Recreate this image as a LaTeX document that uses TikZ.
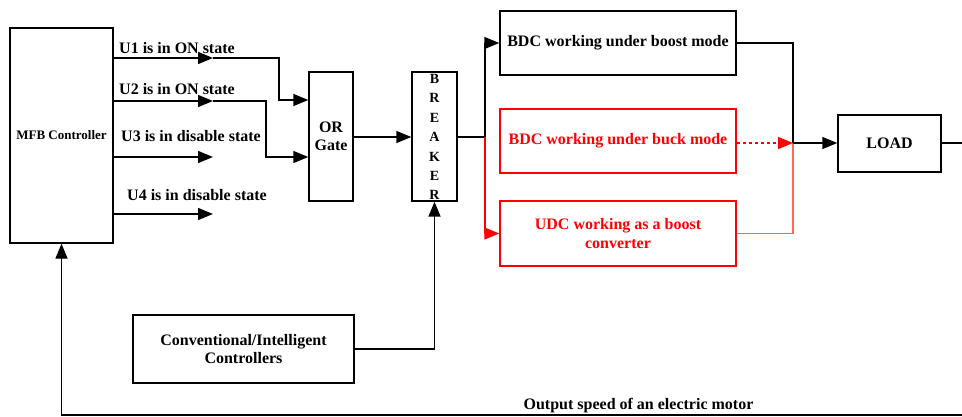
\documentclass[tikz,border=0pt]{standalone}
\usepackage{fontspec}
\setmainfont{Liberation Serif}
\usetikzlibrary{arrows.meta}
\definecolor{pinkred}{RGB}{255,100,100}
\begin{document}
\begin{tikzpicture}[x=1pt,y=-1pt,
  box/.style={draw,line width=1.4pt,shape=rectangle,inner sep=0pt,align=center,
    font=\bfseries\fontsize{16}{18.5}\selectfont},
  redbox/.style={box,draw=red,text=red},
  lbl/.style={inner sep=0pt,font=\bfseries\fontsize{16}{18.5}\selectfont},
  letter/.style={inner sep=0pt,font=\bfseries\fontsize{14}{16}\selectfont},
  ln/.style={line width=1.4pt},
  arr/.style={line width=1.4pt,-{Triangle[length=15pt,width=12pt]}},
  redarr/.style={arr,red},
  pinkln/.style={line width=1.2pt,pinkred}]
\useasboundingbox (0,0) rectangle (962,417);

% boxes
\node[box,minimum width=103pt,minimum height=215pt,
      font=\bfseries\fontsize{13}{15}\selectfont] (mfb) at (61.5,135.5) {MFB Controller};
\node[box,minimum width=44pt,minimum height=129pt] (or) at (331,136.5) {OR\\Gate};
\node[box,minimum width=45pt,minimum height=129pt] (brk) at (434.5,136.5) {};
\foreach \l/\y [count=\i] in {B/79,R/98,E/117.5,A/137,K/156.5,E/176,R/194.5}
  \node[letter] (brk\i) at (434.5,\y) {\l};
\node[box,minimum width=236pt,minimum height=64pt] (boost) at (618,43) {BDC working under boost mode};
\node[redbox,minimum width=236pt,minimum height=64pt] (buck) at (618,141) {BDC working under buck mode};
\node[redbox,minimum width=236pt,minimum height=65pt] (udc) at (618,233.5) {UDC working as a boost\\converter};
\node[box,minimum width=103pt,minimum height=57pt] (load) at (889.5,143.5) {LOAD};
\node[box,minimum width=221pt,minimum height=68pt] (conv) at (243.5,349) {Conventional/Intelligent\\Controllers};

% labels
\node[lbl,anchor=west] (l1) at (119,48) {U1 is in ON state};
\node[lbl,anchor=west] (l2) at (119,89) {U2 is in ON state};
\node[lbl,anchor=west] (l3) at (121,136) {U3 is in disable state};
\node[lbl,anchor=west] (l4) at (127,195) {U4 is in disable state};
\node[lbl] (lout) at (638.5,406) {Output speed of an electric motor};

% MFB outputs
\coordinate (t1) at (213,58);
\coordinate (t2) at (213,101);
\coordinate (t3) at (213,157);
\coordinate (t4) at (213,214);
\coordinate (c1) at (279,100);
\coordinate (c2) at (266,157);
\draw[arr] (mfb.east |- t1) -- (t1);
\draw[arr] (mfb.east |- t2) -- (t2);
\draw[arr] (mfb.east |- t3) -- (t3);
\draw[arr] (mfb.east |- t4) -- (t4);
\draw[arr] (t1) -| (c1) -- (or.west |- c1);
\draw[arr] (t2) -| (c2) -- (or.west |- c2);

% OR -> breaker
\draw[arr] (or.east |- 0,137) -- (brk.west |- 0,137);

% breaker -> converters
\coordinate (j) at (485,137);
\draw[ln] (brk.east |- j) -- (j);
\draw[arr] (j) |- (boost.west);
\draw[redarr] (j) |- (udc.west);

% converters -> load
\coordinate (k) at (793,143);
\draw[pinkln] (udc.east) -| (k);
\draw[ln] (boost.east) -| (k);
\draw[redarr,dashed] (buck.east |- k) -- (k);
\draw[arr] (k) -- (load.west |- k);
\coordinate (lo) at (962,143);
\draw[ln] (load.east |- lo) -- (lo);

% controllers -> breaker
\draw[arr] (conv.east) -| (brk.south);

% feedback
\coordinate (fb) at (962,415);
\draw[arr] (fb) -| (mfb.south);
\end{tikzpicture}
\end{document}
